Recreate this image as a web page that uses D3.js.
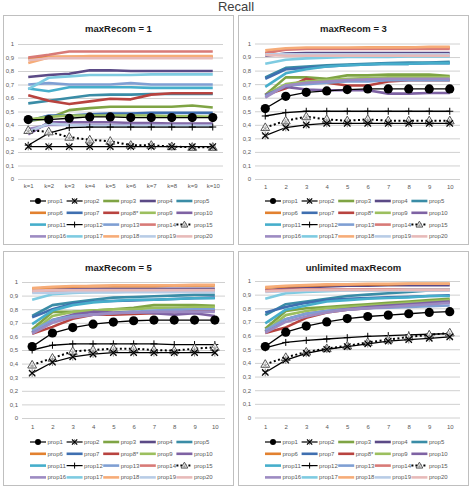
<!DOCTYPE html>
<html><head><meta charset="utf-8">
<script src="https://cdn.jsdelivr.net/npm/d3@7"></script>
<style>body{margin:0;background:#fff;} svg{display:block;font-family:"Liberation Sans",Arial,sans-serif;}</style>
</head><body><svg id="c" width="471" height="488"></svg>
<script>
// ---------- data ----------
const seriesNames = ["prop1","prop2","prop3","prop4","prop5","prop6","prop7","prop8*","prop9","prop10",
  "prop11","prop12","prop13","prop14","prop15","prop16","prop17","prop18","prop19","prop20"];
const kLabels = ["k=1","k=2","k=3","k=4","k=5","k=6","k=7","k=8","k=9","k=10"];
const nLabels = ["1","2","3","4","5","6","7","8","9","10"];
const yTicks = [0,0.1,0.2,0.3,0.4,0.5,0.6,0.7,0.8,0.9,1];
const panelTitles = ["maxRecom = 1","maxRecom = 3","maxRecom = 5","unlimited maxRecom"];

const recall1 = [
 [0.44,0.44,0.45,0.46,0.46,0.455,0.455,0.455,0.455,0.455],
 [0.24,0.24,0.24,0.24,0.24,0.24,0.24,0.24,0.24,0.24],
 [0.43,0.45,0.51,0.525,0.535,0.535,0.535,0.535,0.545,0.53],
 [0.755,0.77,0.78,0.805,0.805,0.80,0.80,0.80,0.80,0.80],
 [0.56,0.58,0.60,0.62,0.625,0.625,0.63,0.63,0.63,0.63],
 [0.89,0.905,0.905,0.905,0.905,0.905,0.905,0.905,0.905,0.905],
 [0.43,0.47,0.47,0.48,0.485,0.485,0.49,0.49,0.49,0.49],
 [0.62,0.58,0.555,0.575,0.595,0.59,0.625,0.635,0.635,0.635],
 [0.44,0.46,0.47,0.47,0.47,0.47,0.47,0.465,0.465,0.46],
 [0.33,0.42,0.42,0.42,0.42,0.415,0.415,0.41,0.41,0.41],
 [0.67,0.65,0.68,0.68,0.68,0.68,0.675,0.675,0.675,0.675],
 [0.25,0.34,0.38,0.385,0.385,0.385,0.385,0.385,0.385,0.385],
 [0.70,0.71,0.70,0.70,0.70,0.71,0.70,0.70,0.70,0.70],
 [0.90,0.92,0.945,0.945,0.945,0.945,0.945,0.945,0.945,0.945],
 [0.36,0.35,0.31,0.29,0.28,0.25,0.25,0.24,0.235,0.235],
 [0.37,0.40,0.40,0.40,0.40,0.40,0.40,0.40,0.40,0.40],
 [0.665,0.75,0.76,0.77,0.77,0.77,0.775,0.775,0.775,0.775],
 [0.86,0.90,0.905,0.91,0.91,0.91,0.91,0.91,0.91,0.91],
 [0.35,0.41,0.40,0.395,0.395,0.395,0.395,0.395,0.395,0.395],
 [0.88,0.895,0.895,0.895,0.895,0.895,0.895,0.895,0.895,0.895]
];
const recall3 = [
 [0.52,0.61,0.64,0.65,0.66,0.665,0.665,0.665,0.665,0.665],
 [0.32,0.38,0.40,0.41,0.41,0.41,0.41,0.41,0.41,0.41],
 [0.62,0.75,0.75,0.74,0.765,0.765,0.77,0.77,0.77,0.76],
 [0.91,0.925,0.93,0.93,0.93,0.93,0.93,0.93,0.93,0.93],
 [0.75,0.82,0.83,0.84,0.845,0.85,0.855,0.86,0.86,0.865],
 [0.93,0.96,0.965,0.965,0.965,0.97,0.97,0.97,0.97,0.97],
 [0.74,0.81,0.82,0.83,0.84,0.845,0.85,0.85,0.855,0.855],
 [0.62,0.67,0.74,0.71,0.69,0.69,0.72,0.73,0.73,0.73],
 [0.62,0.70,0.72,0.73,0.74,0.745,0.75,0.75,0.75,0.75],
 [0.62,0.68,0.66,0.655,0.655,0.655,0.63,0.63,0.635,0.635],
 [0.68,0.78,0.81,0.83,0.84,0.845,0.85,0.85,0.855,0.855],
 [0.465,0.49,0.50,0.50,0.50,0.50,0.50,0.50,0.50,0.50],
 [0.61,0.69,0.70,0.71,0.72,0.72,0.73,0.73,0.73,0.73],
 [0.93,0.955,0.96,0.96,0.96,0.96,0.96,0.96,0.96,0.96],
 [0.38,0.43,0.46,0.44,0.43,0.44,0.43,0.43,0.43,0.43],
 [0.60,0.69,0.71,0.72,0.73,0.735,0.74,0.74,0.74,0.74],
 [0.85,0.88,0.89,0.895,0.90,0.90,0.90,0.905,0.905,0.905],
 [0.95,0.965,0.97,0.97,0.97,0.97,0.97,0.97,0.975,0.975],
 [0.92,0.92,0.92,0.92,0.92,0.92,0.92,0.92,0.92,0.92],
 [0.915,0.91,0.91,0.91,0.91,0.91,0.91,0.91,0.91,0.91]
];
const recall5 = [
 [0.525,0.625,0.665,0.69,0.705,0.715,0.72,0.72,0.72,0.72],
 [0.33,0.41,0.45,0.47,0.48,0.48,0.48,0.48,0.48,0.48],
 [0.65,0.78,0.78,0.79,0.80,0.81,0.83,0.83,0.83,0.825],
 [0.93,0.945,0.95,0.95,0.95,0.95,0.95,0.95,0.95,0.95],
 [0.75,0.83,0.85,0.87,0.885,0.89,0.895,0.90,0.905,0.905],
 [0.95,0.96,0.965,0.97,0.97,0.97,0.97,0.975,0.975,0.975],
 [0.74,0.80,0.84,0.855,0.86,0.865,0.87,0.875,0.88,0.885],
 [0.62,0.67,0.73,0.76,0.76,0.765,0.77,0.78,0.79,0.79],
 [0.63,0.75,0.78,0.79,0.80,0.80,0.81,0.81,0.815,0.815],
 [0.63,0.72,0.76,0.78,0.775,0.78,0.77,0.76,0.77,0.75],
 [0.69,0.79,0.83,0.85,0.86,0.87,0.87,0.875,0.88,0.88],
 [0.50,0.535,0.545,0.545,0.545,0.545,0.545,0.54,0.54,0.54],
 [0.64,0.72,0.75,0.76,0.77,0.78,0.79,0.795,0.80,0.80],
 [0.93,0.93,0.93,0.93,0.935,0.935,0.935,0.935,0.935,0.935],
 [0.39,0.44,0.49,0.50,0.51,0.51,0.50,0.495,0.51,0.52],
 [0.62,0.70,0.74,0.76,0.77,0.775,0.78,0.78,0.78,0.78],
 [0.87,0.91,0.92,0.925,0.925,0.93,0.93,0.93,0.93,0.93],
 [0.955,0.965,0.97,0.97,0.975,0.975,0.975,0.975,0.98,0.98],
 [0.92,0.92,0.925,0.925,0.925,0.925,0.925,0.925,0.925,0.925],
 [0.935,0.94,0.94,0.94,0.94,0.94,0.94,0.94,0.94,0.94]
];
const recallUnl = [
 [0.52,0.625,0.67,0.70,0.725,0.74,0.75,0.76,0.77,0.775],
 [0.33,0.42,0.47,0.50,0.52,0.54,0.56,0.57,0.58,0.59],
 [0.65,0.78,0.80,0.81,0.82,0.83,0.84,0.85,0.86,0.87],
 [0.93,0.945,0.955,0.96,0.965,0.965,0.97,0.97,0.97,0.97],
 [0.75,0.83,0.85,0.87,0.89,0.90,0.91,0.92,0.93,0.935],
 [0.95,0.96,0.965,0.97,0.975,0.975,0.975,0.98,0.98,0.98],
 [0.77,0.81,0.84,0.86,0.87,0.875,0.88,0.885,0.89,0.895],
 [0.62,0.66,0.73,0.77,0.79,0.80,0.815,0.825,0.835,0.845],
 [0.63,0.75,0.78,0.80,0.81,0.82,0.83,0.84,0.85,0.86],
 [0.63,0.72,0.76,0.78,0.795,0.81,0.82,0.83,0.84,0.85],
 [0.69,0.79,0.82,0.85,0.86,0.87,0.875,0.88,0.89,0.89],
 [0.51,0.55,0.565,0.575,0.585,0.595,0.60,0.605,0.61,0.615],
 [0.64,0.72,0.76,0.78,0.79,0.80,0.805,0.81,0.815,0.82],
 [0.93,0.935,0.94,0.94,0.94,0.94,0.94,0.94,0.94,0.94],
 [0.39,0.44,0.48,0.505,0.525,0.55,0.57,0.59,0.605,0.62],
 [0.62,0.70,0.74,0.77,0.79,0.80,0.81,0.82,0.83,0.84],
 [0.87,0.91,0.92,0.925,0.93,0.93,0.93,0.935,0.935,0.935],
 [0.955,0.965,0.97,0.975,0.975,0.98,0.98,0.98,0.98,0.98],
 [0.92,0.925,0.93,0.93,0.93,0.93,0.93,0.93,0.93,0.93],
 [0.925,0.93,0.935,0.935,0.935,0.935,0.935,0.935,0.935,0.935]
];

// ---------- styles ----------
const seriesColors = ["#000","#000","#7FA444","#5B4A86","#3A8CA6","#E2812F","#3F6FB0","#B8433F","#9CBF5E","#7E62A3",
  "#46AECB","#000","#7F9FD3","#D87A77","#000","#9D8BC2","#7ECBE1","#F6AC78","#B8CCE6","#E7BAB9"];
const markerKind = {0:"circle",1:"times",11:"plus",14:"triangle"};

const panels = [
  {data:recall1, labels:kLabels, title:panelTitles[0], box:[3.5,15.5,230,229], plot:[18,223,44,179], titleY:32, xLabY:189, legY:201, legX:30},
  {data:recall3, labels:nLabels, title:panelTitles[1], box:[238.5,15.5,230,229], plot:[255,460,43.5,179], titleY:32, xLabY:190, legY:201, legX:265},
  {data:recall5, labels:nLabels, title:panelTitles[2], box:[3.5,251.5,230,234], plot:[22,225,282,418], titleY:271, xLabY:430, legY:442, legX:30},
  {data:recallUnl, labels:nLabels, title:panelTitles[3], box:[238.5,251.5,230,234], plot:[255,460,281,417.5], titleY:271, xLabY:430, legY:442, legX:265}
];

const svg = d3.select("#c");
svg.append("text").attr("x",236).attr("y",11).attr("text-anchor","middle")
  .attr("font-size",13).attr("fill","#404040").text("Recall");

function marker(g, kind, x, y, big){
  if(kind==="circle"){
    g.append("circle").attr("cx",x).attr("cy",y).attr("r",big?4.6:3).attr("fill","#000");
  } else if(kind==="times"){
    const s = big?3.2:2.6;
    g.append("path").attr("d",d3.symbol(d3.symbolAsterisk, big?40:22)()).attr("transform",`translate(${x},${y})`)
      .attr("stroke","#888").attr("stroke-width",1).attr("fill","none");
    g.append("path").attr("d",`M${x-s},${y-s}L${x+s},${y+s}M${x-s},${y+s}L${x+s},${y-s}`)
      .attr("stroke","#000").attr("stroke-width",1.2);
  } else if(kind==="plus"){
    const s = big?3.5:3;
    g.append("path").attr("d",`M${x-s},${y}L${x+s},${y}M${x},${y-s}L${x},${y+s}`)
      .attr("stroke","#000").attr("stroke-width",1);
  } else if(kind==="triangle"){
    g.append("path").attr("d",d3.symbol(d3.symbolTriangle, big?34:20)()).attr("transform",`translate(${x},${y+0.5})`)
      .attr("stroke","#555").attr("stroke-width",1).attr("fill","#fff");
    g.append("path").attr("d",d3.symbol(d3.symbolAsterisk, big?22:12)()).attr("transform",`translate(${x},${y+1})`)
      .attr("stroke","#999").attr("stroke-width",0.8).attr("fill","none");
  }
}

panels.forEach(p=>{
  const g = svg.append("g");
  g.append("rect").attr("x",p.box[0]).attr("y",p.box[1]).attr("width",p.box[2]).attr("height",p.box[3])
    .attr("fill","#fff").attr("stroke","#BFBFBF").attr("stroke-width",1);
  const cx = p.box[0]+p.box[2]/2;
  g.append("text").attr("x",cx).attr("y",p.titleY).attr("text-anchor","middle")
    .attr("font-size",9.5).attr("font-weight","bold").attr("fill","#1a1a1a").text(p.title);

  const x = d3.scalePoint().domain(p.labels).range([p.plot[0],p.plot[1]]).padding(0.5);
  const y = d3.scaleLinear().domain([0,1]).range([p.plot[3],p.plot[2]]);

  const yAxis = d3.axisLeft(y).tickValues(yTicks).tickSize(-(p.plot[1]-p.plot[0])).tickPadding(4)
    .tickFormat(d=> d===0?"0":d===1?"1":d3.format(".1f")(d).replace(".",","));
  const ya = g.append("g").attr("transform",`translate(${p.plot[0]},0)`).call(yAxis);
  ya.select(".domain").remove();
  ya.selectAll("line").attr("stroke","#D0D0D0").attr("stroke-width",1);
  ya.selectAll("text").attr("font-size",6).attr("fill","#595959").attr("font-family","Liberation Sans, Arial, sans-serif");

  const xAxis = d3.axisBottom(x).tickSize(0).tickPadding(0);
  const xa = g.append("g").attr("transform",`translate(0,${p.xLabY-5})`).call(xAxis);
  xa.select(".domain").remove();
  xa.selectAll("text").attr("font-size",6).attr("fill","#595959").attr("font-family","Liberation Sans, Arial, sans-serif");

  const line = d3.line().x((d,i)=>x(p.labels[i])).y(d=>y(d));
  const lg = g.append("g");
  p.data.forEach((s,i)=>{
    if(markerKind[i]!==undefined) return;
    lg.append("path").attr("d",line(s)).attr("fill","none").attr("stroke",seriesColors[i])
      .attr("stroke-width",2.6).attr("stroke-linejoin","round");
  });
  [11,14,1,0].forEach(i=>{
    const s = p.data[i];
    lg.append("path").attr("d",line(s)).attr("fill","none").attr("stroke","#000")
      .attr("stroke-width",i===14?2:1.3).attr("stroke-dasharray",i===14?"2,2.5":null);
    s.forEach((v,j)=> marker(lg, markerKind[i], x(p.labels[j]), y(v), true));
  });

  const colStep = 36.6, rowStep = 11.8;
  seriesNames.forEach((nm,i)=>{
    const col = i%5, row = Math.floor(i/5);
    const lx = p.legX + col*colStep, ly = p.legY + row*rowStep;
    const kind = markerKind[i];
    if(kind){
      g.append("line").attr("x1",lx).attr("x2",lx+16).attr("y1",ly).attr("y2",ly)
        .attr("stroke","#000").attr("stroke-width",i===14?2:1.2).attr("stroke-dasharray",i===14?"2,2":null);
      marker(g, kind, lx+8, ly, false);
    } else {
      g.append("line").attr("x1",lx).attr("x2",lx+16).attr("y1",ly).attr("y2",ly)
        .attr("stroke",seriesColors[i]).attr("stroke-width",2.6);
    }
    g.append("text").attr("x",lx+17.5).attr("y",ly+2).attr("font-size",6).attr("fill","#595959").text(nm);
  });
});
</script></body></html>
